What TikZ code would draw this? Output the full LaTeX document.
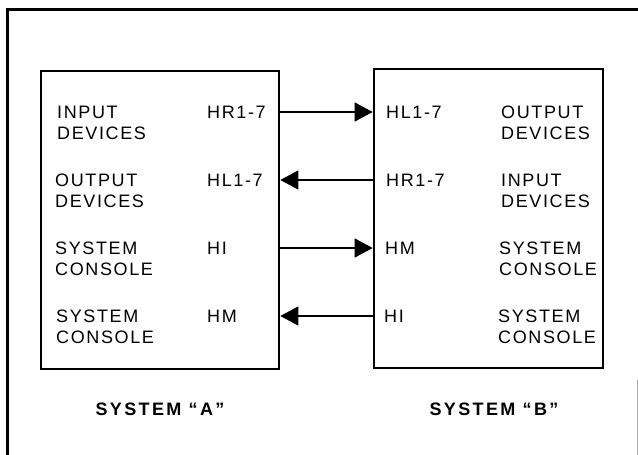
\documentclass[tikz,border=0pt]{standalone}
\usepackage{fontspec}
\setmainfont{Liberation Sans}
\usetikzlibrary{arrows.meta}
\newfontfamily\spaced[LetterSpace=9,Ligatures=TeX]{Liberation Sans}
\newfontfamily\wider[LetterSpace=13,Ligatures=TeX]{Liberation Sans}
\begin{document}
\begin{tikzpicture}[x=1pt,y=-1pt,
  sysbox/.style={draw, line width=2.6pt, minimum width=238pt, minimum height=298pt, inner sep=0pt},
  lbl/.style={anchor=base west, align=left, inner sep=0pt, font=\spaced\fontsize{18}{21}\selectfont},
  title/.style={anchor=base, inner sep=0pt, font=\wider\bfseries\fontsize{18}{21}\selectfont},
  link/.style={line width=1.3pt, -{Triangle[length=18pt,width=19pt]}}]
\useasboundingbox (0,0) rectangle (638,455);
% outer frame (bottom edge lies beyond the picture)
\draw[line width=3pt] (7,470) -- (7,9) -- (640,9);
\draw[line width=0.8pt, black!35] (637,380) -- (637,470);
% system boxes
\node[sysbox] (A) at (160,220) {};
\node[sysbox, minimum width=229pt, minimum height=299pt] (B) at (488.5,218.5) {};
% row coordinates
\coordinate (r1) at (0,112);
\coordinate (r2) at (0,180);
\coordinate (r3) at (0,248);
\coordinate (r4) at (0,316);
% labels in A (anchor at baseline of second line)
\node[lbl] (a1) at (57,139) {INPUT\\DEVICES};
\node[lbl] (a2) at (55,207) {OUTPUT\\DEVICES};
\node[lbl] (a3) at (55,275) {SYSTEM\\CONSOLE};
\node[lbl] (a4) at (56,343) {SYSTEM\\CONSOLE};
\node[lbl] (pa1) at (207,118.5) {HR1-7};
\node[lbl] (pa2) at (207,186.5) {HL1-7};
\node[lbl] (pa3) at (207,254.5) {HI};
\node[lbl] (pa4) at (207,322.5) {HM};
% labels in B
\node[lbl] (pb1) at (386,118.5) {HL1-7};
\node[lbl] (pb2) at (386,186.5) {HR1-7};
\node[lbl] (pb3) at (385,254.5) {HM};
\node[lbl] (pb4) at (384,322.5) {HI};
\node[lbl] (b1) at (501,139) {OUTPUT\\DEVICES};
\node[lbl] (b2) at (501,207) {INPUT\\DEVICES};
\node[lbl] (b3) at (499,275) {SYSTEM\\CONSOLE};
\node[lbl] (b4) at (498,343) {SYSTEM\\CONSOLE};
% titles
\node[title] (ta) at (160,415) {SYSTEM “A”};
\node[title] (tb) at (494,415) {SYSTEM “B”};
% connectors
\draw[link] (A.east |- r1) -- (B.west |- r1);
\draw[link] (B.west |- r2) -- (A.east |- r2);
\draw[link] (A.east |- r3) -- (B.west |- r3);
\draw[link] (B.west |- r4) -- (A.east |- r4);
\end{tikzpicture}
\end{document}
